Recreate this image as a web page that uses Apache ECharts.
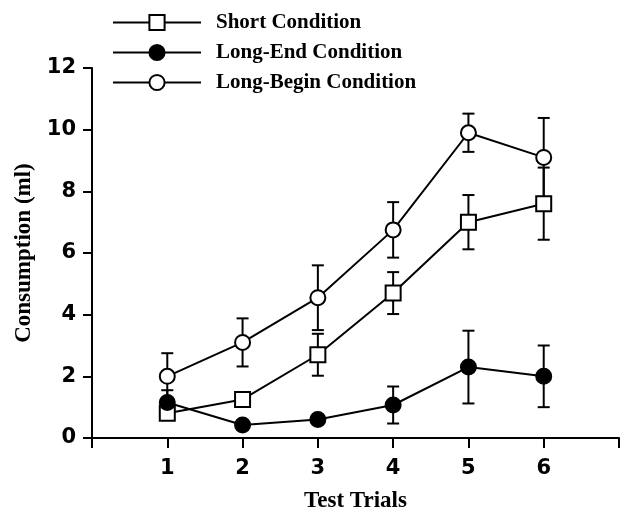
<!DOCTYPE html>
<html>
<head>
<meta charset="utf-8">
<script src="https://cdn.jsdelivr.net/npm/echarts@6/dist/echarts.min.js"></script>
<style>
  html, body { margin: 0; padding: 0; background: #fff; }
  #chart { width: 621px; height: 508px; }
</style>
</head>
<body>
<div id="chart"></div>
<script>
// x positions (test trial number)
var trials = [1, 2, 3, 4, 5, 6];
var xTickLabels = ['', '1', '2', '3', '4', '5', '6', ''];

// mean consumption (ml)
var shortMean     = [0.8, 1.25, 2.7, 4.7, 7.0, 7.6];
var longEndMean   = [1.15, 0.42, 0.6, 1.07, 2.3, 2.0];
var longBeginMean = [2.0, 3.1, 4.55, 6.75, 9.9, 9.1];

// half length of the error bars (ml)
var shortErr     = [0.2, 0.22, 0.68, 0.68, 0.88, 1.17];
var longEndErr   = [0.4, 0, 0, 0.6, 1.18, 1.0];
var longBeginErr = [0.75, 0.78, 1.05, 0.9, 0.62, 1.28];

var serifBold = { fontFamily: 'Liberation Serif', fontWeight: 'bold', color: '#000' };
var sansBold = { fontFamily: 'DejaVu Sans', fontWeight: 'bold', color: '#000' };

function pairs(means) {
    return trials.map(function (t, i) { return [t, means[i]]; });
}

// error bars drawn under the markers
function errorBars(name, means, errs) {
    return {
        type: 'custom',
        name: name,
        z: 2,
        silent: true,
        data: trials.map(function (t, i) {
            return [t, means[i] - errs[i], means[i] + errs[i]];
        }),
        encode: { x: 0, y: [1, 2] },
        renderItem: function (params, api) {
            var lo = api.coord([api.value(0), api.value(1)]);
            var hi = api.coord([api.value(0), api.value(2)]);
            if (lo[1] - hi[1] < 1) {
                return;
            }
            var half = 6;
            var st = { stroke: '#000', lineWidth: 2 };
            return {
                type: 'group',
                children: [
                    { type: 'line', shape: { x1: lo[0], y1: lo[1], x2: hi[0], y2: hi[1] }, style: st },
                    { type: 'line', shape: { x1: hi[0] - half, y1: hi[1], x2: hi[0] + half, y2: hi[1] }, style: st },
                    { type: 'line', shape: { x1: lo[0] - half, y1: lo[1], x2: lo[0] + half, y2: lo[1] }, style: st }
                ]
            };
        }
    };
}

function lineSeries(name, means, symbol, fill) {
    return {
        type: 'line',
        name: name,
        z: 3,
        data: pairs(means),
        symbol: symbol,
        symbolSize: 15,
        lineStyle: { color: '#000', width: 2 },
        itemStyle: { color: fill, borderColor: '#000', borderWidth: 2 },
        emphasis: { disabled: true }
    };
}

var chart = echarts.init(document.getElementById('chart'));
chart.setOption({
    animation: false,
    backgroundColor: '#fff',
    legend: {
        orient: 'vertical',
        left: 107,
        top: 7,
        itemWidth: 88,
        itemHeight: 19,
        itemGap: 9,
        selectedMode: false,
        data: ['Short Condition', 'Long-End Condition', 'Long-Begin Condition'],
        textStyle: Object.assign({ fontSize: 21, padding: [0, 0, 0, 10] }, serifBold)
    },
    grid: { left: 92, right: 2, top: 68, bottom: 70, outerBoundsMode: 'none', containLabel: false },
    xAxis: {
        type: 'value',
        min: 0,
        max: 7,
        interval: 1,
        name: 'Test Trials',
        nameLocation: 'middle',
        nameGap: 52,
        nameTextStyle: Object.assign({ fontSize: 23 }, serifBold),
        axisLine: { lineStyle: { color: '#000', width: 2 } },
        axisTick: { length: 10, lineStyle: { color: '#000', width: 2 } },
        axisLabel: Object.assign({
            fontSize: 21,
            margin: 20,
            formatter: function (v) { return xTickLabels[v]; }
        }, sansBold),
        splitLine: { show: false }
    },
    yAxis: {
        type: 'value',
        min: 0,
        max: 12,
        interval: 2,
        name: 'Consumption (ml)',
        nameLocation: 'middle',
        nameGap: 55,
        nameTextStyle: Object.assign({ fontSize: 23 }, serifBold),
        axisLine: { lineStyle: { color: '#000', width: 2 } },
        axisTick: { length: 9, lineStyle: { color: '#000', width: 2 } },
        axisLabel: Object.assign({ fontSize: 21, margin: 16 }, sansBold),
        splitLine: { show: false }
    },
    series: [
        errorBars('errShort', shortMean, shortErr),
        errorBars('errLongEnd', longEndMean, longEndErr),
        errorBars('errLongBegin', longBeginMean, longBeginErr),
        lineSeries('Short Condition', shortMean, 'rect', '#fff'),
        lineSeries('Long-End Condition', longEndMean, 'circle', '#000'),
        lineSeries('Long-Begin Condition', longBeginMean, 'circle', '#fff')
    ]
});
</script>
</body>
</html>
